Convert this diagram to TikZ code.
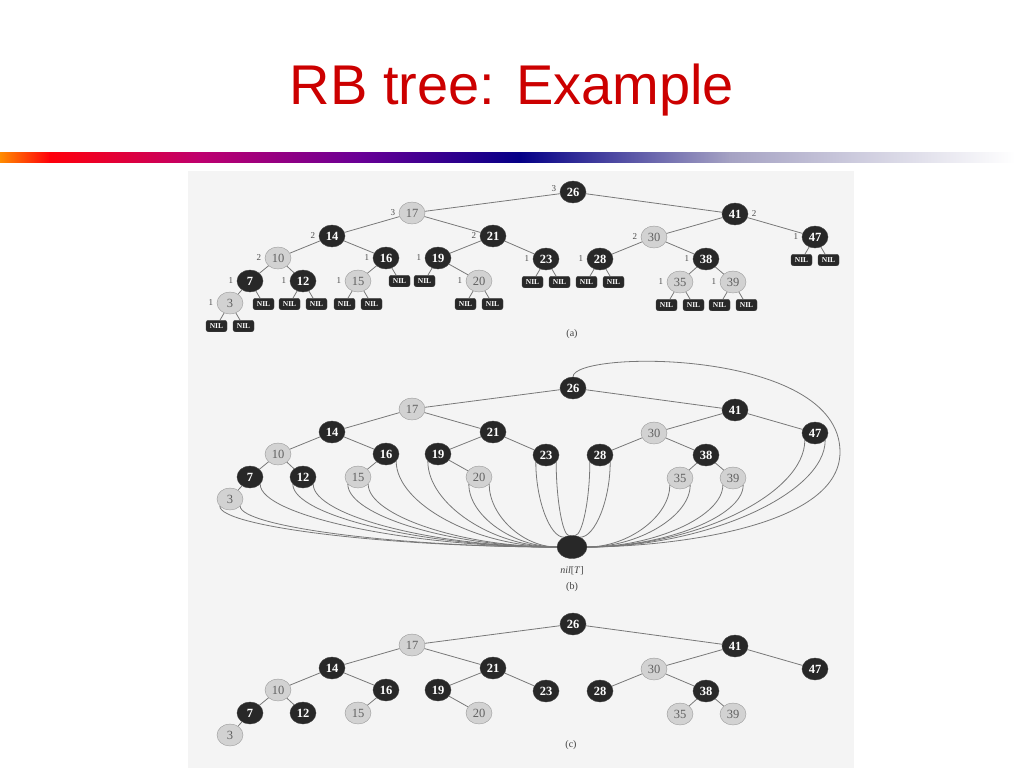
\documentclass[tikz,border=0pt]{standalone}
\usepackage{fontspec}
\setmainfont{Liberation Serif}
\newfontfamily\titlefont{Liberation Sans}
\usetikzlibrary{shapes.geometric,calc,positioning}
\definecolor{titlered}{RGB}{204,0,0}
\definecolor{barorange}{RGB}{255,140,0}
\definecolor{barred}{RGB}{255,0,10}
\definecolor{barmagenta}{RGB}{190,0,110}
\definecolor{barpurple}{RGB}{105,0,150}
\definecolor{barnavy}{RGB}{5,0,135}
\definecolor{barlav}{RGB}{165,162,195}
\definecolor{panelgray}{RGB}{244,244,244}
\definecolor{darknode}{RGB}{40,40,40}
\definecolor{lightnode}{RGB}{210,210,210}
\definecolor{edgegray}{RGB}{120,120,120}

% #1 = prefix, #2 = vertical offset
\newcommand\rbtree[2]{%
  \node[bn] (#1-26) at (573,{192+#2}) {26};
  \node[rn] (#1-17) at (412,{213+#2}) {17};
  \node[bn] (#1-41) at (735,{214+#2}) {41};
  \node[bn] (#1-14) at (332,{236+#2}) {14};
  \node[bn] (#1-21) at (493,{236+#2}) {21};
  \node[rn] (#1-30) at (654,{237+#2}) {30};
  \node[bn] (#1-47) at (815,{237+#2}) {47};
  \node[rn] (#1-10) at (278,{258+#2}) {10};
  \node[bn] (#1-16) at (386,{258+#2}) {16};
  \node[bn] (#1-19) at (438,{258+#2}) {19};
  \node[bn] (#1-23) at (546,{259+#2}) {23};
  \node[bn] (#1-28) at (600,{259+#2}) {28};
  \node[bn] (#1-38) at (706,{259+#2}) {38};
  \node[bn] (#1-7)  at (250,{281+#2}) {7};
  \node[bn] (#1-12) at (303,{281+#2}) {12};
  \node[rn] (#1-15) at (358,{281+#2}) {15};
  \node[rn] (#1-20) at (479,{281+#2}) {20};
  \node[rn] (#1-35) at (680,{282+#2}) {35};
  \node[rn] (#1-39) at (733,{282+#2}) {39};
  \node[rn] (#1-3)  at (230,{303+#2}) {3};
  \foreach \p/\c in {26/17,26/41,17/14,17/21,14/10,14/16,10/7,10/12,7/3,16/15,
                     21/19,21/23,19/20,41/30,41/47,30/28,30/38,38/35,38/39}
    \draw[tedge] (#1-\p) -- (#1-\c);
}

% curve from a leaf side of a node to nil[T]
\newcommand\tonil[2]{%
  \coordinate (mid) at ($(#1)!0.5!(#2)$);
  \draw[tedge] (#1) .. controls (#1 |- mid) and (mid |- #2) .. (#2);
}

\begin{document}
\begin{tikzpicture}[x=1pt,y=-1pt,
  bn/.style={ellipse, draw=black!75, fill=darknode, text=white, minimum width=26pt,
    minimum height=22pt, inner sep=0pt, font=\fontsize{12.5}{12.5}\selectfont\bfseries},
  rn/.style={ellipse, draw=black!40, fill=lightnode, text=black!62, minimum width=26pt,
    minimum height=22pt, inner sep=0pt, font=\fontsize{12.5}{12.5}\selectfont},
  nilbox/.style={rectangle, rounded corners=2.5pt, draw=black!75, fill=darknode, text=white,
    minimum width=21pt, minimum height=11.5pt, inner sep=0pt, font=\fontsize{7.5}{7.5}\selectfont\bfseries},
  tedge/.style={draw=edgegray, line width=0.8pt},
  hlab/.style={font=\fontsize{9}{9}\selectfont, text=black!70, inner sep=0.5pt},
  captext/.style={font=\fontsize{10}{10}\selectfont, text=black!75, inner sep=1pt},
  nilT/.style={ellipse, draw=black!75, fill=darknode, minimum width=30pt, minimum height=23pt, inner sep=0pt},
]
\useasboundingbox (0,0) rectangle (1024,768);
\fill[white] (0,0) rectangle (1024,768);

% title and colour bar
\node[font=\titlefont\fontsize{56}{56}\selectfont, text=titlered, anchor=base, inner sep=0pt]
  (title) at (512,104) {RB tree: Example};
\shade[left color=barorange, right color=barred] (0,152) rectangle (50,162);
\shade[left color=barred, right color=barmagenta] (49.5,152) rectangle (200,162);
\shade[left color=barmagenta, right color=barpurple] (199.5,152) rectangle (360,162);
\shade[left color=barpurple, right color=barnavy] (359.5,152) rectangle (520,162);
\shade[left color=barnavy, right color=barlav] (519.5,152) rectangle (730,162);
\shade[left color=barlav, right color=white] (729.5,152) rectangle (1015,162);

% figure panel
\fill[panelgray] (188,171) rectangle (854,768);

% ---------- (a) ----------
\rbtree{a}{0}
\node[hlab, left=3pt of a-26, yshift=3pt] (a-h26) {3};
\foreach \n/\h in {17/3,14/2,21/2,30/2,47/1,10/2,16/1,19/1,23/1,28/1,38/1,7/1,12/1,15/1,20/1,35/1,39/1,3/1}
  \node[hlab, left=3pt of a-\n] (a-h\n) {\h};
\node[hlab, right=3pt of a-41] (a-h41) {2};
\foreach \n/\s/\dx in {3/l/-13.5,3/r/13.5,7/r/13.5,12/l/-13.5,12/r/13.5,15/l/-13.5,15/r/13.5,
                       16/r/13.5,19/l/-13.5,20/l/-13.5,20/r/13.5,23/l/-13.5,23/r/13.5,
                       28/l/-13.5,28/r/13.5,35/l/-13.5,35/r/13.5,39/l/-13.5,39/r/13.5,
                       47/l/-13.5,47/r/13.5}{
  \node[nilbox] (a-\n\s) at ($(a-\n)+(\dx,23)$) {NIL};
  \draw[tedge] (a-\n) -- (a-\n\s);
}
\node[captext] (a-cap) at (572,334) {(a)};

% ---------- (b) ----------
\rbtree{b}{196}
\node[nilT] (b-nil) at (572,547) {};
\node[captext] (b-nillab) at (572,571) {\textit{nil}[\textit{T}]};
\node[captext] (b-cap) at (572,587) {(b)};
\foreach \n/\a/\e in {3/215/west,3/325/west,7/325/west,12/215/west,12/325/west,
                      15/215/west,15/325/west,16/325/west,19/215/west,20/215/west,20/325/west,
                      23/215/130,23/325/105,28/215/75,28/325/50,
                      35/215/east,35/325/east,39/215/east,39/325/east,47/215/east,47/325/east}
  \tonil{b-\n.\a}{b-nil.\e}
\coordinate (b-loop) at (840,452);
\draw[tedge] (b-26.north) .. controls (573,350) and (840,348) .. (b-loop)
  .. controls (840,530) and (660,547) .. (b-nil.east);

% ---------- (c) ----------
\rbtree{c}{432}
\node[captext] (c-cap) at (571,745) {(c)};
\end{tikzpicture}
\end{document}
